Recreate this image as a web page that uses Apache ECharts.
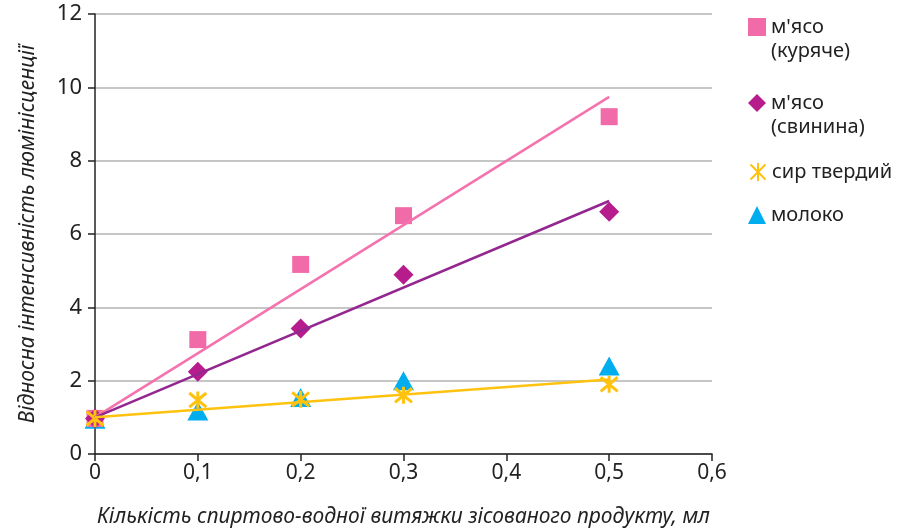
<!DOCTYPE html>
<html>
<head>
<meta charset="utf-8">
<script src="https://cdn.jsdelivr.net/npm/echarts@6/dist/echarts.min.js"></script>
<style>
  html, body { margin: 0; padding: 0; background: #fff; }
  #chart { width: 906px; height: 529px; }
</style>
</head>
<body>
<div id="chart"></div>
<script>
// Відносна інтенсивність люмінісценції від кількості витяжки

const xValues = [0, 0.1, 0.2, 0.3, 0.5];
const chicken = [0.97, 3.12, 5.17, 6.5, 9.2];
const pork = [0.97, 2.24, 3.42, 4.89, 6.61];
const cheese = [0.97, 1.47, 1.49, 1.6, 1.9];
const milk = [0.95, 1.17, 1.54, 2.0, 2.4];

// лінії тренду (кінцеві точки)
const trendX = [0, 0.5];
const chickenTrend = [1.0, 9.74];
const porkTrend = [1.0, 6.9];
const cheeseTrend = [1.0, 2.03];

const names = ["м'ясо\n(куряче)", "м'ясо\n(свинина)", "сир твердий", "молоко"];

const pair = (xs, ys) => xs.map((x, i) => [x, ys[i]]);
const comma = v => String(Number(v.toFixed(1))).replace(".", ",");

const FONT = "Noto Sans";
const starPath = "path://M0,0 L10,10 M10,0 L0,10 M5,-1 L5,11";

const chart = echarts.init(document.getElementById("chart"));

// значок легенди стоїть навпроти першого рядка підпису
const legendAt = (name, iconY) => {
    const twoLines = name.includes("\n");
    return {
        orient: "vertical",
        left: 748,
        top: iconY - (twoLines ? 36 : 12),
        padding: 0,
        itemWidth: 18,
        itemHeight: 18,
        itemGap: 6,
        selectedMode: false,
        formatter: n => (n.includes("\n") ? "\n" + n : n),
        textStyle: { fontFamily: FONT, fontSize: 20, color: "#222", lineHeight: 24 },
        data: [name]
    };
};

chart.setOption({
    backgroundColor: "#fff",
    animation: false,
    grid: { left: 95, right: 194, top: 14, bottom: 75, outerBoundsMode: "none", containLabel: false },
    legend: [
        legendAt(names[0], 27),
        legendAt(names[1], 103),
        legendAt(names[2], 172),
        legendAt(names[3], 215)
    ],
    xAxis: {
        type: "value",
        min: 0,
        max: 0.6,
        interval: 0.1,
        name: "Кількість спиртово-водної витяжки зісованого продукту, мл",
        nameLocation: "middle",
        nameGap: 53,
        nameTextStyle: { fontFamily: FONT, fontSize: 21, fontStyle: "italic", color: "#222" },
        axisLine: { lineStyle: { color: "#222", width: 1.5 } },
        axisTick: { show: true, length: 7, lineStyle: { color: "#222", width: 1.5 } },
        axisLabel: { fontFamily: FONT, fontSize: 21, color: "#222", margin: 9, formatter: comma },
        splitLine: { show: false }
    },
    yAxis: {
        type: "value",
        min: 0,
        max: 12,
        interval: 2,
        name: "Відносна інтенсивність люмінісценції",
        nameLocation: "middle",
        nameGap: 56,
        nameTextStyle: { fontFamily: FONT, fontSize: 21, fontStyle: "italic", color: "#222" },
        axisLine: { show: true, lineStyle: { color: "#222", width: 1.5 } },
        axisTick: { show: true, length: 7, lineStyle: { color: "#222", width: 1.5 } },
        axisLabel: { fontFamily: FONT, fontSize: 22, color: "#222", margin: 13 },
        splitLine: { show: true, lineStyle: { color: "#b3b3b3", width: 1.5 } }
    },
    series: [
        {
            name: names[3], type: "scatter", symbol: "triangle", symbolSize: [21, 19],
            itemStyle: { color: "#00AEEF", opacity: 1 }, data: pair(xValues, milk), z: 2
        },
        {
            name: names[0], type: "scatter", symbol: "rect", symbolSize: 17,
            itemStyle: { color: "#F06BA8", opacity: 1 }, data: pair(xValues, chicken), z: 2
        },
        {
            name: names[1], type: "scatter", symbol: "diamond", symbolSize: 20,
            itemStyle: { color: "#B71C8C", opacity: 1 }, data: pair(xValues, pork), z: 2
        },
        {
            name: names[2], type: "scatter", symbol: starPath, symbolSize: 17,
            itemStyle: { color: "none", borderColor: "#FFC20E", borderWidth: 3, opacity: 1 },
            data: pair(xValues, cheese), z: 3
        },
        {
            name: "trend1", type: "line", showSymbol: false, symbol: "none", silent: true,
            lineStyle: { color: "#F472AE", width: 2.5 }, data: pair(trendX, chickenTrend), z: 4
        },
        {
            name: "trend2", type: "line", showSymbol: false, symbol: "none", silent: true,
            lineStyle: { color: "#93278F", width: 2.5 }, data: pair(trendX, porkTrend), z: 4
        },
        {
            name: "trend3", type: "line", showSymbol: false, symbol: "none", silent: true,
            lineStyle: { color: "#FFC20E", width: 2.5 }, data: pair(trendX, cheeseTrend), z: 4
        }
    ]
});

window.addEventListener("resize", () => chart.resize());
</script>
</body>
</html>
